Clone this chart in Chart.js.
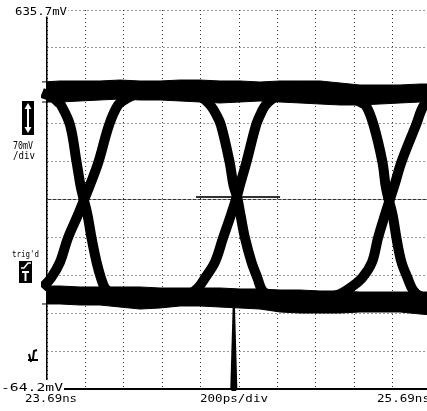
<!DOCTYPE html>
<html>
<head>
<meta charset="utf-8">
<script src="https://cdn.jsdelivr.net/npm/chart.js@4.4.1/dist/chart.umd.min.js"></script>
<style>
  html, body { margin: 0; padding: 0; background: #fff; overflow: hidden; }
  #wrap { width: 434px; height: 411px; }
</style>
</head>
<body>
<div id="wrap"><canvas id="eye" width="434" height="411"></canvas></div>
<script>
// scope settings: 23.69ns .. 25.69ns (200ps/div), -64.2mV .. 635.7mV (70mV/div)
const timeTicks = [23.69, 23.89, 24.09, 24.29, 24.49, 24.69, 24.89, 25.09, 25.29, 25.49, 25.69];
const voltTicks = [-64.2, 5.79, 75.78, 145.77, 215.76, 285.75, 355.74, 425.73, 495.72, 565.71, 635.7];
const topLabel = "635.7mV";
const bottomLabel = "-64.2mV";
const startLabel = "23.69ns";
const endLabel = "25.69ns";
const scaleLabel = "200ps/div";
const voltDivLabel = ["70mV", "/div"];
const trigLabel = "trig'd";

// logic levels (band edges, mV) sampled along time (ns)
const bandTimes = [23.664, 23.758, 23.862, 23.966, 24.070, 24.174, 24.279, 24.383, 24.487, 24.591, 24.695,
                   24.799, 24.904, 25.008, 25.112, 25.216, 25.320, 25.424, 25.529, 25.633, 25.695];
const highTop = [502.7, 504.6, 504.6, 504.6, 506.4, 504.6, 504.6, 506.4, 506.4, 504.6, 504.6,
                 502.7, 504.6, 504.6, 504.6, 500.9, 497.2, 497.2, 497.2, 499.0, 499.0];
const highBottom = [465.8, 465.8, 467.7, 469.5, 471.4, 469.5, 469.5, 467.7, 465.8, 464.0, 465.8,
                    467.7, 465.8, 464.0, 462.1, 460.3, 460.3, 462.1, 464.0, 465.8, 465.8];
const lowTop = [126.0, 126.0, 124.2, 124.2, 124.2, 124.2, 122.3, 122.3, 122.3, 122.3, 120.5,
                120.5, 118.6, 118.6, 116.8, 116.8, 114.9, 114.9, 114.9, 114.9, 114.9];
const lowBottom = [92.8, 92.8, 90.9, 90.9, 87.2, 83.5, 85.4, 89.1, 89.1, 87.2, 85.4,
                   83.5, 78.0, 76.1, 76.1, 76.1, 78.0, 78.0, 78.0, 74.3, 72.4];

// transitions [ns, mV]
const fall1 = [[23.664,482.4],[23.716,475.0],[23.747,465.8],[23.763,460.3],[23.810,423.3],[23.844,355.0],[23.864,312.5],
               [23.878,290.4],[23.901,257.1],[23.922,214.7],[23.948,170.3],[23.971,140.8],[23.992,122.3],[24.029,111.2],[24.070,107.5]];
const rise1 = [[23.628,107.5],[23.664,122.3],[23.711,140.8],[23.758,170.3],[23.799,214.7],[23.851,257.1],[23.889,290.4],
               [23.914,312.5],[23.958,355.0],[24.013,423.3],[24.060,460.3],[24.101,471.4],[24.164,482.4]];
const fall2 = [[24.435,484.3],[24.476,476.9],[24.508,471.4],[24.544,458.4],[24.570,443.6],[24.596,423.3],[24.641,355.0],[24.661,312.5],
               [24.680,290.4],[24.698,257.1],[24.721,214.7],[24.755,170.3],[24.786,140.8],[24.810,118.6],[24.852,107.5],[24.904,103.8]];
const rise2 = [[24.383,105.7],[24.435,111.2],[24.476,122.3],[24.513,140.8],[24.565,170.3],[24.607,214.7],[24.648,257.1],[24.678,290.4],
               [24.695,312.5],[24.729,355.0],[24.779,423.3],[24.805,445.5],[24.825,458.4],[24.862,471.4],[24.930,482.4]];
const fall3 = [[25.216,480.6],[25.279,473.2],[25.320,465.8],[25.352,458.4],[25.391,423.3],[25.437,355.0],[25.453,312.5],
               [25.466,290.4],[25.490,257.1],[25.510,214.7],[25.536,170.3],[25.568,140.8],[25.596,118.6],[25.633,107.5],[25.695,103.8]];
const rise3 = [[25.164,105.7],[25.216,111.2],[25.268,122.3],[25.331,140.8],[25.383,170.3],[25.414,214.7],[25.450,257.1],
               [25.480,290.4],[25.500,312.5],[25.536,355.0],[25.612,423.3],[25.648,456.6],[25.685,471.4],[25.737,480.6]];

// crossing level cursor and trigger position
const crossLevel = 290.4;
const crossSpan = [24.466, 24.904];
const triggerTime = 24.663;

const pts = arr => arr.map(p => ({ x: p[0], y: p[1] }));
const band = vals => bandTimes.map((t, i) => ({ x: t, y: vals[i] }));
const CLIP = { left: 6, top: 0, right: 0, bottom: 0 };

function edge(arr) {
  return {
    data: pts(arr), borderColor: "#000", borderWidth: 10, pointRadius: 0,
    tension: 0.35, borderJoinStyle: "round", fill: false, clip: CLIP
  };
}

function fitText(ctx, txt, left, right, base, size) {
  ctx.font = size + 'px "DejaVu Sans Mono"';
  const w = ctx.measureText(txt).width;
  ctx.fillStyle = "#fff";
  ctx.fillRect(left - 1, base - size, right - left + 2, size + 2);
  ctx.fillStyle = "#000";
  ctx.save();
  ctx.translate(left, base);
  ctx.scale((right - left) / w, 1);
  ctx.textBaseline = "alphabetic";
  ctx.fillText(txt, 0, 0);
  ctx.restore();
}

// labels, icons, trigger marker
const scopeDecor = {
  id: "scopeDecor",
  afterDraw(chart) {
    const ctx = chart.ctx;
    const xs = chart.scales.x;

    // trigger marker
    const xm = xs.getPixelForValue(triggerTime);
    ctx.fillStyle = "#000";
    ctx.beginPath();
    ctx.moveTo(xm - 1.2, 308);
    ctx.lineTo(xm + 1.2, 308);
    ctx.lineTo(xm + 3.5, 388);
    ctx.lineTo(xm, 396);
    ctx.lineTo(xm - 3.5, 388);
    ctx.closePath();
    ctx.fill();

    fitText(ctx, topLabel, 15, 67, 14.5, 11);
    fitText(ctx, bottomLabel, 1, 63, 391, 11);
    fitText(ctx, startLabel, 25, 77, 402, 11);
    fitText(ctx, scaleLabel, 200, 268, 402, 11);
    fitText(ctx, endLabel, 377, 430, 402, 11);
    fitText(ctx, voltDivLabel[0], 13, 33, 148.5, 10);
    fitText(ctx, voltDivLabel[1], 13, 35, 159, 10);
    fitText(ctx, trigLabel, 12, 39, 256.5, 9);

    // volts/div arrow icon
    ctx.fillStyle = "#000";
    ctx.fillRect(22, 101, 12, 34);
    ctx.fillStyle = "#fff";
    ctx.fillRect(27, 107, 2, 22);
    ctx.beginPath();
    ctx.moveTo(28, 103); ctx.lineTo(24.5, 109); ctx.lineTo(31.5, 109); ctx.closePath();
    ctx.moveTo(28, 133); ctx.lineTo(24.5, 127); ctx.lineTo(31.5, 127); ctx.closePath();
    ctx.fill();

    // trigger icon
    ctx.fillStyle = "#000";
    ctx.fillRect(19, 261, 13, 22);
    ctx.strokeStyle = "#fff";
    ctx.lineWidth = 1.5;
    ctx.beginPath();
    ctx.moveTo(21, 268); ctx.lineTo(24, 268); ctx.lineTo(28, 263); ctx.lineTo(31, 263);
    ctx.stroke();
    ctx.lineWidth = 2;
    ctx.beginPath();
    ctx.moveTo(22, 272); ctx.lineTo(29, 272);
    ctx.moveTo(25.5, 272); ctx.lineTo(25.5, 281);
    ctx.stroke();

    // ground icon
    ctx.strokeStyle = "#000";
    ctx.lineWidth = 2;
    ctx.beginPath();
    ctx.moveTo(37, 350); ctx.lineTo(34, 351); ctx.lineTo(33, 359);
    ctx.moveTo(28, 360); ctx.lineTo(38, 360);
    ctx.moveTo(29, 354); ctx.lineTo(31, 362);
    ctx.stroke();
  }
};

new Chart(document.getElementById("eye"), {
  type: "line",
  data: {
    datasets: [
      { data: band(highTop), borderColor: "#000", borderWidth: 1, pointRadius: 0, fill: false, clip: CLIP },
      { data: band(highBottom), borderColor: "#000", borderWidth: 1, pointRadius: 0, fill: "-1", backgroundColor: "#000", clip: CLIP },
      { data: band(lowTop), borderColor: "#000", borderWidth: 1, pointRadius: 0, fill: false, clip: CLIP },
      { data: band(lowBottom), borderColor: "#000", borderWidth: 1, pointRadius: 0, fill: "-1", backgroundColor: "#000", clip: CLIP },
      edge(fall1), edge(rise1), edge(fall2), edge(rise2), edge(fall3), edge(rise3),
      { data: crossSpan.map(t => ({ x: t, y: crossLevel })), borderColor: "#333", borderWidth: 2, pointRadius: 0, fill: false }
    ]
  },
  options: {
    responsive: false,
    devicePixelRatio: 1,
    animation: false,
    events: [],
    layout: { padding: { left: 47, top: 10, right: 3, bottom: 22 } },
    plugins: { legend: { display: false }, tooltip: { enabled: false } },
    scales: {
      x: {
        type: "linear", min: timeTicks[0], max: timeTicks[timeTicks.length - 1],
        afterBuildTicks: s => { s.ticks = timeTicks.map(v => ({ value: v })); },
        ticks: { display: false },
        grid: { color: "#333", lineWidth: 1, drawTicks: false },
        border: { display: true, color: "#000", width: 2, dash: [1, 3] }
      },
      y: {
        type: "linear", min: voltTicks[0], max: voltTicks[voltTicks.length - 1],
        afterBuildTicks: s => { s.ticks = voltTicks.map(v => ({ value: v })); },
        ticks: { display: false },
        grid: { color: "#333", lineWidth: 1, drawTicks: false },
        border: { display: true, color: "#000", width: 1.5, dash: ctx => (ctx.index === 5 ? [4, 1] : [1, 3]) }
      }
    }
  },
  plugins: [scopeDecor]
});
</script>
</body>
</html>
